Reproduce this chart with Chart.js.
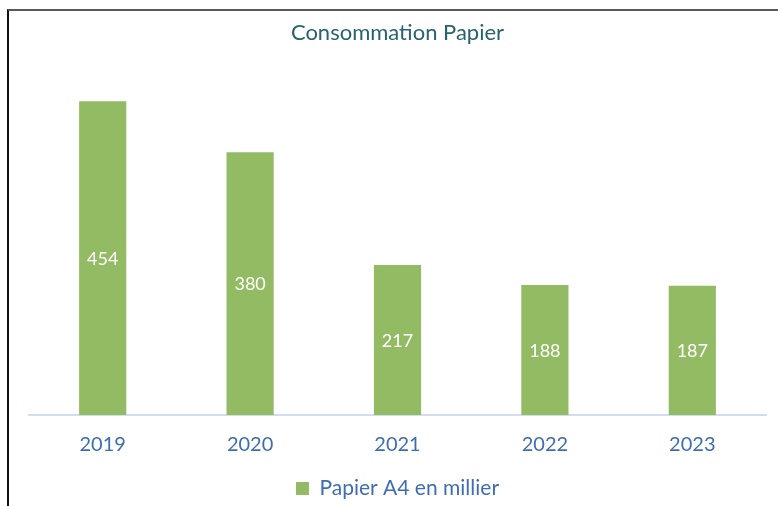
<!DOCTYPE html>
<html>
<head>
<meta charset="utf-8">
<script src="https://cdn.jsdelivr.net/npm/chart.js@4"></script>
<style>
  html, body { margin: 0; padding: 0; background: #fff; }
  #wrap { position: relative; width: 778px; height: 506px; }
  #frame { position: absolute; left: 7px; top: 9px; right: 0; bottom: 0;
           border-top: 2px solid #5a5a5a; border-left: 2px solid #111; pointer-events: none; }
</style>
</head>
<body>
<div id="wrap">
  <canvas id="chart" width="778" height="506"></canvas>
  <div id="frame"></div>
</div>
<script>
const years = ["2019", "2020", "2021", "2022", "2023"];
const papierA4 = [454, 380, 217, 188, 187];
const seriesName = "Papier A4 en millier";
const chartTitle = "Consommation Papier";

const FONT = "Lato, 'Noto Sans', sans-serif";

// values written in the middle of each bar
const barLabels = {
  id: 'barLabels',
  afterDatasetsDraw(chart) {
    const ctx = chart.ctx;
    const meta = chart.getDatasetMeta(0);
    ctx.save();
    ctx.fillStyle = '#ffffff';
    ctx.font = '18px ' + FONT;
    ctx.textAlign = 'center';
    ctx.textBaseline = 'middle';
    meta.data.forEach((bar, i) => {
      const p = bar.getProps(['x', 'y', 'base'], true);
      ctx.fillText(chart.data.datasets[0].data[i], p.x, (p.y + p.base) / 2 + 1);
    });
    ctx.restore();
  }
};

new Chart(document.getElementById('chart'), {
  type: 'bar',
  data: {
    labels: years,
    datasets: [{
      label: seriesName,
      data: papierA4,
      backgroundColor: '#93bb64',
      barPercentage: 0.32,
      categoryPercentage: 1
    }]
  },
  options: {
    responsive: false,
    animation: false,
    layout: { padding: { left: 29, right: 12, top: 0, bottom: -3 } },
    plugins: {
      title: {
        display: true,
        text: chartTitle,
        color: '#26636d',
        font: { family: FONT, size: 22, weight: 'normal' },
        padding: { top: 20, bottom: 23 }
      },
      legend: {
        position: 'bottom',
        labels: {
          color: '#3f6db3',
          font: { family: FONT, size: 21 },
          boxWidth: 13,
          boxHeight: 13,
          padding: 4
        }
      },
      tooltip: { enabled: false }
    },
    scales: {
      x: {
        grid: { display: false, drawTicks: false },
        border: { display: true, color: '#d3ddf0', width: 2 },
        ticks: { color: '#3f6db3', font: { family: FONT, size: 20 }, padding: 18 },
        afterFit: (s) => { s.height = 59; }
      },
      y: {
        display: false,
        min: 0,
        max: 500
      }
    }
  },
  plugins: [barLabels]
});
</script>
</body>
</html>
